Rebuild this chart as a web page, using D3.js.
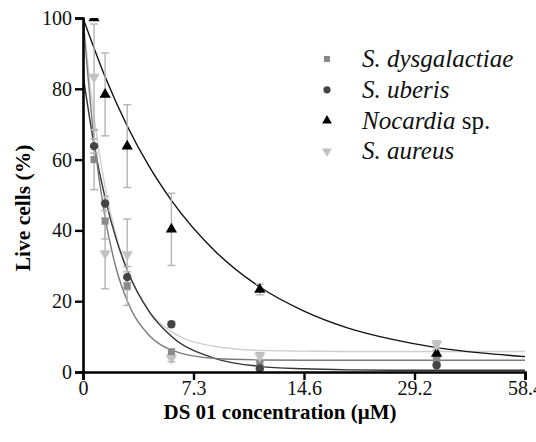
<!DOCTYPE html>
<html>
<head>
<meta charset="utf-8">
<style>
  body { margin: 0; background: #fff; }
</style>
</head>
<body>
<svg id="viz" width="536" height="442"></svg>
<script src="https://d3js.org/d3.v7.min.js"></script>
<script>
var serif = "'Liberation Serif'";

// x positions are on the chart's own (linear) axis; tick labels are the printed ones
var xTicks = [0, 7.3, 14.6, 21.9, 29.2];
var xTickLabels = ["0", "7.3", "14.6", "29.2", "58.4"];
var yTicks = [0, 20, 40, 60, 80, 100];

var conc = [0.73, 1.46, 2.92, 5.84, 11.68, 23.36];

// means and error bars
var dysgalactiae = [60, 42.6, 24.3, 5.6, 2.5, 3.5];
var dysgalactiaeErr = [8.5, 5, 5.5, 1, 0.5, 0.5];
var uberis = [63.8, 47.6, 26.8, 13.5, 1, 1.9];
var uberisErr = [2, 2, 1.5, 0.8, 0.5, 0.5];
var nocardia = [100, 78.4, 63.8, 40.3, 23.3, 5.2];
var nocardiaErr = [0, 11.7, 11.7, 10.2, 1.5, 1];
var aureus = [83.3, 33.5, 33.2, 3.9, 4.5, 7.8];
var aureusErr = [15, 10, 10, 1, 1, 1];

// fitted curves
var fitX = [0, 0.73, 1.46, 2.19, 2.92, 4.38, 5.84, 8.76, 11.68, 14.6, 17.52, 20.44, 23.36, 26.28, 29.2];
var dysgalactiaeFit = [100, 65.7, 43.6, 29.3, 20.1, 10.3, 6.2, 3.8, 3.4, 3.3, 3.3, 3.3, 3.3, 3.3, 3.3];
var uberisFit = [84, 64.2, 49.2, 37.6, 28.8, 17, 10.1, 3.8, 1.6, 0.9, 0.6, 0.5, 0.5, 0.5, 0.5];
var aureusFit = [100, 72, 52.3, 38.5, 28.8, 17.2, 11.4, 7.2, 6.1, 5.9, 5.8, 5.8, 5.8, 5.8, 5.8];
var fitX2 = [0, 1.46, 2.92, 4.38, 5.84, 8.76, 11.68, 14.6, 17.52, 20.44, 23.36, 26.28, 29.2];
var nocardiaFit = [100, 83.4, 69.5, 58, 48.5, 34, 24, 17.2, 12.4, 9.2, 6.9, 5.4, 4.35];

var series = [
  {italic: "S. dysgalactiae", rest: "", shape: d3.symbolSquare, size: 50, color: "#8a8a8a", line: "#7a7a7a",
   x: conc, y: dysgalactiae, err: dysgalactiaeErr, fx: fitX, fy: dysgalactiaeFit},
  {italic: "S. uberis", rest: "", shape: d3.symbolCircle, size: 55, color: "#444", line: "#333",
   x: conc, y: uberis, err: uberisErr, fx: fitX, fy: uberisFit},
  {italic: "Nocardia", rest: " sp.", shape: d3.symbolTriangle, size: 55, color: "#000", line: "#111",
   x: conc, y: nocardia, err: nocardiaErr, fx: fitX2, fy: nocardiaFit},
  {italic: "S. aureus", rest: "", shape: d3.symbolTriangle, size: 55, color: "#c2c2c2", line: "#cfcfcf", flip: true,
   x: conc, y: aureus, err: aureusErr, fx: fitX, fy: aureusFit}
];

var svg = d3.select("#viz");
var margin = {left: 83, top: 18, right: 11, bottom: 70};
var width = 536 - margin.left - margin.right,
    height = 442 - margin.top - margin.bottom;

var x = d3.scaleLinear().domain([0, 29.2]).range([0, width]);
var y = d3.scaleLinear().domain([0, 100]).range([height, 0]);

var g = svg.append("g").attr("transform", "translate(" + margin.left + "," + margin.top + ")");

svg.append("defs").append("clipPath").attr("id", "clip")
  .append("rect").attr("x", 0).attr("y", 0).attr("width", width + 10).attr("height", height + 10);

var plot = g.append("g").attr("clip-path", "url(#clip)");

// fitted curves
var line = d3.line()
    .x(function(d) { return x(d[0]); })
    .y(function(d) { return y(d[1]); })
    .curve(d3.curveMonotoneX);

series.slice().reverse().forEach(function(s) {
  plot.append("path")
    .datum(d3.zip(s.fx, s.fy))
    .attr("fill", "none")
    .attr("stroke", s.line)
    .attr("stroke-width", 1.4)
    .attr("d", line);
});

// error bars
var capW = 4;
series.forEach(function(s) {
  var eb = plot.append("g").attr("stroke", "#b5b5b5").attr("stroke-width", 1.4);
  d3.zip(s.x, s.y, s.err).forEach(function(d) {
    if (d[2] <= 0) return;
    var cx = x(d[0]), y0 = y(d[1] - d[2]), y1 = y(d[1] + d[2]);
    eb.append("line").attr("x1", cx).attr("x2", cx).attr("y1", y0).attr("y2", y1);
    eb.append("line").attr("x1", cx - capW).attr("x2", cx + capW).attr("y1", y0).attr("y2", y0);
    eb.append("line").attr("x1", cx - capW).attr("x2", cx + capW).attr("y1", y1).attr("y2", y1);
  });
});

// markers
series.forEach(function(s) {
  var sym = d3.symbol().type(s.shape).size(s.size);
  plot.append("g").selectAll("path")
    .data(d3.zip(s.x, s.y))
    .enter().append("path")
    .attr("d", sym)
    .attr("fill", s.color)
    .attr("transform", function(d) {
      return "translate(" + x(d[0]) + "," + y(d[1]) + ")" + (s.flip ? " rotate(180)" : "");
    });
});

// axes
var xAxis = g.append("g")
  .attr("transform", "translate(0," + height + ")")
  .call(d3.axisBottom(x).tickValues(xTicks).tickSize(8).tickPadding(1)
    .tickFormat(function(d, i) { return xTickLabels[i]; }));
var yAxis = g.append("g")
  .call(d3.axisLeft(y).tickValues(yTicks).tickSize(8).tickPadding(3));

[xAxis, yAxis].forEach(function(a) {
  a.attr("font-family", null).attr("font-size", null);
  a.select(".domain").attr("stroke", "#000").attr("stroke-width", 2.6);
  a.selectAll(".tick line").attr("stroke", "#000").attr("stroke-width", 2.4);
  a.selectAll(".tick text").attr("fill", "#111")
    .style("font-family", serif).style("font-size", "20px");
});

// axis titles
svg.append("text")
  .attr("x", margin.left + width / 2 - 24)
  .attr("y", 419)
  .attr("text-anchor", "middle")
  .style("font-family", serif)
  .style("font-size", "21px").style("font-weight", "bold")
  .text("DS 01 concentration (\u03bcM)");

svg.append("text")
  .attr("transform", "translate(30," + (margin.top + height / 2 + 13) + ") rotate(-90)")
  .attr("text-anchor", "middle")
  .style("font-family", serif)
  .style("font-size", "21.5px").style("font-weight", "bold")
  .text("Live cells (%)");

// legend
var legend = svg.append("g").attr("transform", "translate(327,59)");
series.forEach(function(s, i) {
  var row = legend.append("g").attr("transform", "translate(0," + (i * 30.8) + ")");
  row.append("path")
    .attr("d", d3.symbol().type(s.shape).size(s.size * 0.75))
    .attr("fill", s.color)
    .attr("transform", s.flip ? "rotate(180)" : null);
  var t = row.append("text").attr("x", 35).attr("y", 8)
    .style("font-family", serif).style("font-size", "25px").attr("fill", "#111");
  t.append("tspan").style("font-style", "italic").text(s.italic);
  if (s.rest) t.append("tspan").text(s.rest);
});
</script>
</body>
</html>
